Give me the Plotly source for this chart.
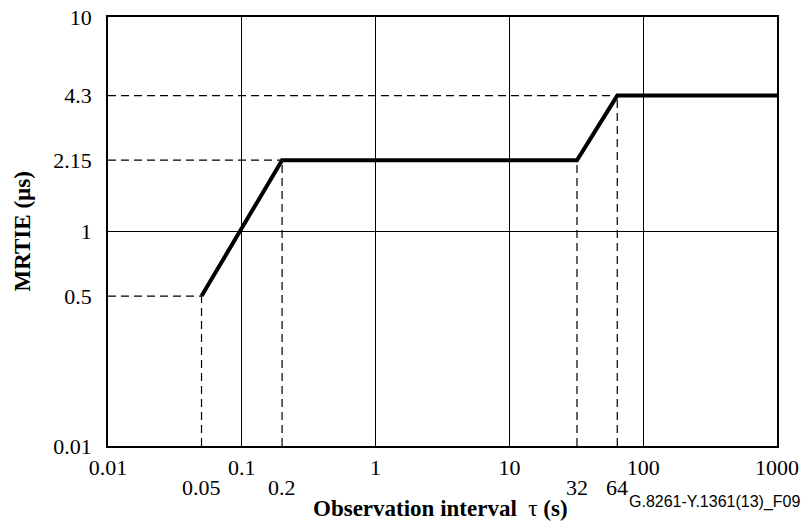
import math
import plotly.graph_objects as go

# Data: MRTIE mask breakpoints
tau = [0.05, 0.2, 32, 64, 1000]
mrtie = [0.5, 2.15, 2.15, 4.3, 4.3]

# Axis ticks
x_major = [0.01, 0.1, 1, 10, 100, 1000]
x_major_text = ["0.01", "0.1", "1", "10", "100", "1000"]
x_extra = [0.05, 0.2, 32, 64]
x_extra_text = ["0.05", "0.2", "32", "64"]
y_ticks = [0.1, 0.5, 1, 2.15, 4.3, 10]
y_ticktext = ["0.01", "0.5", "1", "2.15", "4.3", "10"]

# Guide lines (dashed) from breakpoints: indices of corners
guide_idx = [0, 1, 2, 3]

X_MIN, X_MAX = 0.01, 1000
Y_MIN, Y_MAX = 0.1, 10

serif = "Liberation Serif"
DASH = "8px,5px"

fig = go.Figure()

# dashed vertical guides from bottom to each corner
for i in guide_idx:
    xv, yv = tau[i], mrtie[i]
    fig.add_trace(go.Scatter(x=[xv, xv], y=[Y_MIN, yv], mode="lines",
                             line=dict(color="black", width=1.2, dash=DASH),
                             hoverinfo="skip", showlegend=False))
# dashed horizontal guides from left edge to the first corner of each level
levels = {}
for i in guide_idx:
    xv, yv = tau[i], mrtie[i]
    if yv not in levels:
        levels[yv] = xv
for yv, xv in levels.items():
    fig.add_trace(go.Scatter(x=[X_MIN, xv], y=[yv, yv], mode="lines",
                             line=dict(color="black", width=1.2, dash=DASH),
                             hoverinfo="skip", showlegend=False))

# main mask line
fig.add_trace(go.Scatter(x=tau, y=mrtie, mode="lines",
                         line=dict(color="black", width=4),
                         hoverinfo="skip", showlegend=False))

# solid horizontal line at 1
fig.add_shape(type="line", xref="paper", yref="y", x0=0, x1=1, y0=1, y1=1,
              line=dict(color="black", width=1.2), layer="below")

# extra x labels (second row)
for v, t in zip(x_extra, x_extra_text):
    fig.add_annotation(x=math.log10(v), y=0, xref="x", yref="paper",
                       text=t, showarrow=False, yanchor="top", yshift=-27,
                       font=dict(family=serif, size=22, color="black"))

# axis titles as annotations
fig.add_annotation(x=0.5, y=0, xref="paper", yref="paper", xanchor="center",
                   yanchor="middle", yshift=-62, xshift=-2,
                   text="<b>Observation interval</b>  τ<b> (s)</b>", showarrow=False,
                   font=dict(family=serif, size=23, color="black"))
fig.add_annotation(x=0, y=0.5, xref="paper", yref="paper", xanchor="center",
                   yanchor="middle", xshift=-86, textangle=-90,
                   text="<b>MRTIE (µs)</b>", showarrow=False,
                   font=dict(family=serif, size=23, color="black"))

fig.add_annotation(x=1.0, y=0, xref="paper", yref="paper", xanchor="right",
                   yanchor="middle", yshift=-56, xshift=25,
                   text="G.8261-Y.1361(13)_F09", showarrow=False,
                   font=dict(family="Liberation Sans", size=16, color="black"))

fig.update_xaxes(type="log", range=[math.log10(X_MIN), math.log10(X_MAX)],
                 tickvals=x_major, ticktext=x_major_text,
                 showgrid=True, gridcolor="black", gridwidth=1.2,
                 showline=True, linecolor="black", linewidth=1.5, mirror=True,
                 ticks="", zeroline=False, automargin=False,
                 ticklabelstandoff=1, ticklabeloverflow="allow",
                 tickfont=dict(family=serif, size=22, color="black"))
fig.update_yaxes(type="log", range=[math.log10(Y_MIN), math.log10(Y_MAX)],
                 tickvals=y_ticks, ticktext=y_ticktext,
                 showgrid=False,
                 showline=True, linecolor="black", linewidth=1.5, mirror=True,
                 ticks="", zeroline=False, automargin=False,
                 ticklabelstandoff=10, ticklabeloverflow="allow",
                 tickfont=dict(family=serif, size=22, color="black"))

fig.update_layout(width=804, height=524,
                  margin=dict(l=108, r=27, t=17, b=78),
                  paper_bgcolor="white", plot_bgcolor="white")

fig.write_html("out.html",
               config={"displayModeBar": False},
               post_script="document.body.style.margin='0';document.body.style.overflow='hidden';")
